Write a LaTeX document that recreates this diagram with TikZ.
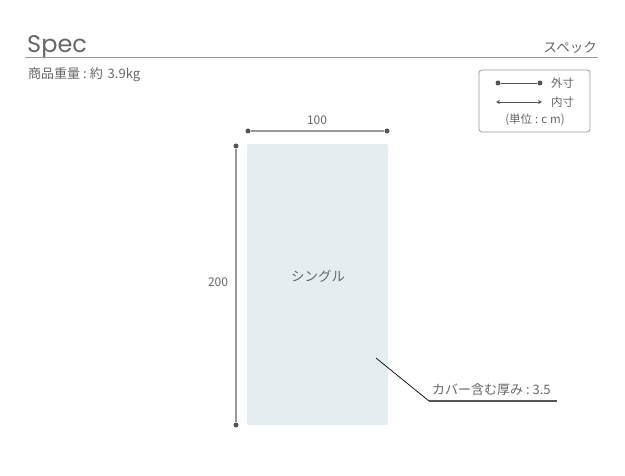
\documentclass[tikz,border=0pt]{standalone}
\usepackage{fontspec}
\setmainfont{Noto Sans CJK JP}
\newfontfamily\specfont{Poppins}
\usetikzlibrary{arrows.meta}
\definecolor{txt}{HTML}{666666}
\definecolor{dotc}{HTML}{555555}
\definecolor{linec}{HTML}{999999}
\definecolor{bedc}{HTML}{E4EEF0}
\tikzset{
  lbl/.style={text=txt, font=\fontsize{11.5}{13}\selectfont, inner sep=0pt},
  dimline/.style={draw=linec, line width=1.4pt},
  dotpt/.style={circle, fill=dotc, inner sep=0pt, minimum size=5pt},
}
\begin{document}
\begin{tikzpicture}[x=1pt,y=-1pt]
\useasboundingbox (0,0) rectangle (625,476);
% header
\node[anchor=base west, text=txt, inner sep=0pt, font=\specfont\fontsize{24}{27}\selectfont] (spec) at (27,53) {Spec};
\coordinate (hl) at (25,57);
\coordinate (hr) at (598,57);
\draw[linec, line width=0.8pt] (hl) -- (hr);
\node[anchor=base east, lbl, font=\fontsize{13.5}{15}\selectfont] (specjp) at (597,53) {スペック};
\node[anchor=west, lbl, font=\fontsize{13}{15}\selectfont] (weight) at (28,75) {商品重量\hspace{3pt}:\hspace{3pt}約\hspace{2pt} 3.9kg};
% legend
\node[draw=linec, rounded corners=3pt, line width=0.8pt, minimum width=111pt, minimum height=62pt, inner sep=0pt] (legend) at (534.5,101) {};
\node[dotpt] (l1a) at (498,83) {};
\node[dotpt] (l1b) at (540,83) {};
\draw[dotc, line width=0.9pt] (l1a) -- (l1b);
\node[lbl, anchor=west] (outer) at (551,83) {外寸};
\coordinate (l2a) at (496,102);
\coordinate (l2b) at (542,102);
\draw[dotc, line width=0.8pt, {Stealth[length=4pt,width=4pt]}-{Stealth[length=4pt,width=4pt]}] (l2a) -- (l2b);
\node[lbl, anchor=west] (inner) at (551,102) {内寸};
\node[lbl] (unit) at (535,120) {(単位\hspace{3pt}:\hspace{3pt}c\hspace{3pt}m)};
% bed
\node[fill=bedc, rounded corners=2pt, minimum width=141pt, minimum height=281pt, inner sep=0pt] (bed) at (317.5,284.5) {};
\node[lbl, font=\fontsize{13.5}{15}\selectfont] (single) at (318,276) {シングル};
% top dimension
\node[dotpt] (t1) at (248,131) {};
\node[dotpt] (t2) at (387,131) {};
\draw[dimline] (t1) -- (t2);
\node[lbl, font=\fontsize{12}{14}\selectfont] (w) at (317,120) {100};
% left dimension
\node[dotpt] (s1) at (236,146) {};
\node[dotpt] (s2) at (236,425) {};
\draw[dimline] (s1) -- (s2);
\node[lbl, font=\fontsize{12}{14}\selectfont] (h) at (218,282) {200};
% leader
\coordinate (p1) at (376,358);
\coordinate (p2) at (429,401);
\coordinate (p3) at (557,401);
\draw[black, line width=0.7pt] (p1) -- (p2);
\draw[dotc, line width=1.3pt] (p2) -- (p3);
\node[lbl, anchor=base west, font=\fontsize{13}{15}\selectfont] (thick) at (432,395) {カバー含む厚み~:~3.5};
\end{tikzpicture}
\end{document}
